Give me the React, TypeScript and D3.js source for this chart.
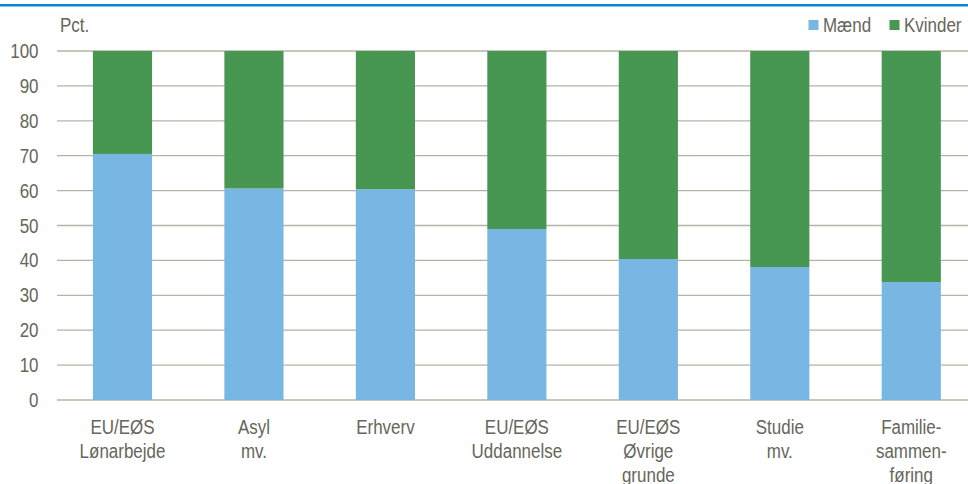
import React from "react";
import * as d3 from "d3";

const categories: string[][] = [
  ["EU/EØS", "Lønarbejde"],
  ["Asyl", "mv."],
  ["Erhverv"],
  ["EU/EØS", "Uddannelse"],
  ["EU/EØS", "Øvrige", "grunde"],
  ["Studie", "mv."],
  ["Familie-", "sammen-", "føring"],
];
const maend = [70.5, 60.6, 60.4, 49.0, 40.4, 38.1, 33.8];
const kvinder = maend.map((v) => 100 - v);
const yTicks = [0, 10, 20, 30, 40, 50, 60, 70, 80, 90, 100];

const W = 968;
const H = 484;
const BLUE = "#78b6e4";
const GREEN = "#479753";
const TEXT = "#66665a";
const GRID = "#b4b4a6";
const FONT = "'Liberation Sans', Arial, sans-serif";
const FS = 19.5;
const SX = 0.87;

function T(props: { x: number; y: number; anchor?: "start" | "middle" | "end"; children: React.ReactNode }) {
  return (
    <text
      transform={`translate(${props.x},${props.y}) scale(${SX},1)`}
      textAnchor={props.anchor || "start"}
      fontSize={FS}
      fill={TEXT}
    >
      {props.children}
    </text>
  );
}

export default function App() {
  const x = d3
    .scaleBand<number>()
    .domain(d3.range(categories.length))
    .range([56.75, 977])
    .paddingInner(0.55)
    .paddingOuter(0.275);
  const y = d3.scaleLinear().domain([0, 100]).range([400, 51]);

  return (
    <svg
      width={W}
      height={H}
      style={{ position: "absolute", left: 0, top: 0, background: "#fff" }}
      fontFamily={FONT}
    >
      <rect x={0} y={4} width={W} height={2.5} fill="#0a88cf" />
      {yTicks.map((t) => (
        <g key={t}>
          <line x1={57} x2={W} y1={y(t)} y2={y(t)} stroke={GRID} strokeWidth={1.3} />
          <T x={38.5} y={y(t) + 7} anchor="end">
            {t}
          </T>
        </g>
      ))}
      <T x={60} y={32}>
        Pct.
      </T>
      {categories.map((c, i) => {
        const bx = x(i)!;
        const bw = x.bandwidth();
        return (
          <g key={i}>
            <rect x={bx} y={y(maend[i])} width={bw} height={y(0) - y(maend[i])} fill={BLUE} />
            <rect
              x={bx}
              y={y(maend[i] + kvinder[i])}
              width={bw}
              height={y(maend[i]) - y(maend[i] + kvinder[i])}
              fill={GREEN}
            />
            {c.map((line, j) => (
              <T key={j} x={bx + bw / 2} y={434 + j * 24} anchor="middle">
                {line}
              </T>
            ))}
          </g>
        );
      })}
      <rect x={808.5} y={20} width={10} height={10} fill={BLUE} />
      <T x={823} y={31.5}>
        Mænd
      </T>
      <rect x={889.5} y={20} width={10} height={10} fill={GREEN} />
      <T x={904} y={31.5}>
        Kvinder
      </T>
    </svg>
  );
}
